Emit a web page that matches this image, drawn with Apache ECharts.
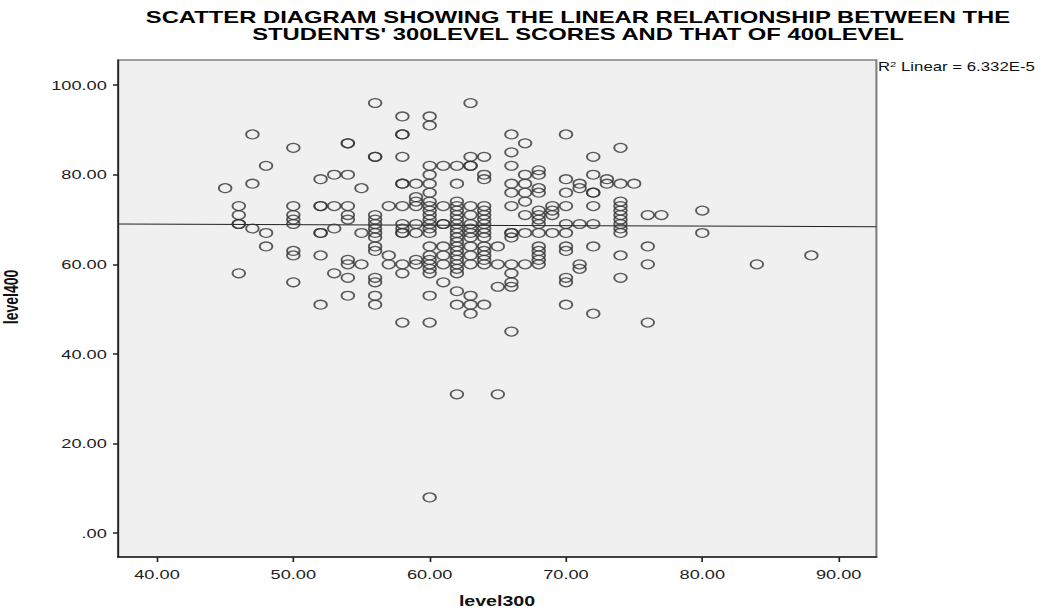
<!DOCTYPE html>
<html>
<head>
<meta charset="utf-8">
<script src="https://cdn.jsdelivr.net/npm/echarts@6/dist/echarts.min.js"></script>
<style>
html,body{margin:0;padding:0;background:#fff;overflow:hidden;width:1051px;height:614px;}
#chart{width:750.714px;height:614px;transform:scaleX(1.4);transform-origin:0 0;}
</style>
</head>
<body>
<div id="chart"></div>
<script>
// ---- data ----
const titleLines = [
  "SCATTER DIAGRAM SHOWING THE LINEAR RELATIONSHIP BETWEEN THE",
  "STUDENTS' 300LEVEL SCORES AND THAT OF 400LEVEL"
];
const xAxisName = "level300";
const yAxisName = "level400";
const fitLabel = "R² Linear = 6.332E-5";

const xTicks = [40, 50, 60, 70, 80, 90];
const yTicks = [0, 20, 40, 60, 80, 100];
const xRange = [37.14, 92.77];
const yRange = [-5.3, 105.6];

// level300 score columns and the level400 scores found in each column
const level300Columns = [45,46,47,48,50,52,53,54,55,56,57,58,59,60,61,62,63,64,65,66,67,68,69,70,71,72,73,74,75,76,77,80,84,88];
const level400ByColumn = [
  [77],
  [73,71,69,69,58],
  [89,78,68],
  [82,67,64],
  [86,73,71,70,69,63,62,56],
  [79,73,73,67,67,62,51],
  [80,73,68,58],
  [87,87,80,73,71,70,61,60,57,53],
  [77,67,60],
  [96,84,84,71,70,69,68,67,66,64,63,57,56,53,51],
  [73,62,60],
  [93,89,89,84,78,78,73,69,68,67,67,60,58,47],
  [78,75,74,73,69,67,61,60],
  [93,91,82,80,78,76,74,73,72,71,70,69,68,67,64,62,61,60,59,58,53,47,8],
  [82,73,69,69,64,62,60,56],
  [82,78,74,73,72,71,70,69,68,67,66,65,64,63,62,61,60,59,58,54,51,31],
  [96,84,82,82,73,71,69,68,67,66,64,62,60,53,51,49],
  [84,80,79,73,72,71,70,69,68,67,66,64,63,62,61,60,51],
  [64,60,55,31],
  [89,85,82,78,76,73,67,67,66,60,58,56,55,45],
  [87,80,78,76,74,71,67,60],
  [81,80,77,76,72,71,70,69,67,64,63,62,61,60],
  [73,72,71,67],
  [89,79,76,73,69,67,64,63,57,56,51],
  [78,77,69,60,59],
  [84,80,76,76,73,69,64,49],
  [79,78],
  [86,78,74,73,72,71,70,69,68,67,62,57],
  [78],
  [71,64,60,47],
  [71],
  [72,67],
  [60],
  [62]
];

// fitted line end points
const fitLevel300 = [37.14, 92.77];
const fitLevel400 = [69.0, 68.4];

// ---- build chart ----
const S = 1.4; // horizontal stretch of the reference
const points = [];
level300Columns.forEach((x, i) => level400ByColumn[i].forEach(y => points.push([x, y])));
const fitData = fitLevel300.map((x, i) => [x, fitLevel400[i]]);
const fmt = v => (v === 0 ? '.00' : v.toFixed(2));
const FONT = 'Liberation Sans, Arial, Helvetica, sans-serif';

const chart = echarts.init(document.getElementById('chart'), null, {renderer: 'svg'});
chart.setOption({
  animation: false,
  backgroundColor: '#ffffff',
  grid: {
    left: 118 / S, right: 175 / S, top: 60, bottom: 57,
    show: true, backgroundColor: '#f0f0f0', borderColor: '#808080', borderWidth: 1.5
  },
  xAxis: {
    type: 'value', min: xRange[0], max: xRange[1],
    splitLine: {show: false},
    axisLine: {show: true, onZero: false, lineStyle: {color: '#222', width: 1.5}},
    axisTick: {show: true, customValues: xTicks, length: 5, lineStyle: {color: '#222', width: 1.2}},
    axisLabel: {customValues: xTicks, formatter: fmt, margin: 11, fontSize: 13, color: '#222', fontFamily: FONT}
  },
  yAxis: {
    type: 'value', min: yRange[0], max: yRange[1],
    splitLine: {show: false},
    axisLine: {show: true, onZero: false, lineStyle: {color: '#222', width: 1.2}},
    axisTick: {show: true, customValues: yTicks, length: 5 / S, lineStyle: {color: '#222', width: 1.5}},
    axisLabel: {customValues: yTicks, formatter: fmt, margin: 8, fontSize: 13, color: '#222', fontFamily: FONT}
  },
  series: [
    {
      type: 'line', data: fitData, symbol: 'none', silent: true, z: 1,
      lineStyle: {color: '#222', width: 1}
    },
    {
      type: 'scatter', data: points, symbol: 'circle', symbolSize: [9, 8.8], z: 2,
      itemStyle: {color: 'transparent', borderColor: '#333', borderWidth: 1.3}
    }
  ],
  graphic: [
    {type: 'text', x: 578 / S, y: 17, style: {text: titleLines[0], font: 'bold 17px ' + FONT, fill: '#000', textAlign: 'center', textVerticalAlign: 'middle'}},
    {type: 'text', x: 578 / S, y: 34, style: {text: titleLines[1], font: 'bold 17px ' + FONT, fill: '#000', textAlign: 'center', textVerticalAlign: 'middle'}},
    {type: 'text', x: 497 / S, y: 601, style: {text: xAxisName, font: 'bold 14px ' + FONT, fill: '#111', textAlign: 'center', textVerticalAlign: 'middle'}},
    {type: 'text', x: 12 / S, y: 297, rotation: Math.PI / 2, style: {text: yAxisName, font: 'bold 14px ' + FONT, fill: '#111', textAlign: 'center', textVerticalAlign: 'middle'}},
    {type: 'text', x: 878 / S, y: 67, style: {
      text: '{r|R}{s|2}{r| Linear = 6.332E-5}',
      textVerticalAlign: 'middle', textAlign: 'left',
      rich: {
        r: {fontSize: 12, fontFamily: FONT, fill: '#111', color: '#111'},
        s: {fontSize: 8, fontFamily: FONT, fill: '#111', color: '#111', padding: [0, 0, 6, 0]}
      }
    }}
  ]
});
</script>
</body>
</html>
